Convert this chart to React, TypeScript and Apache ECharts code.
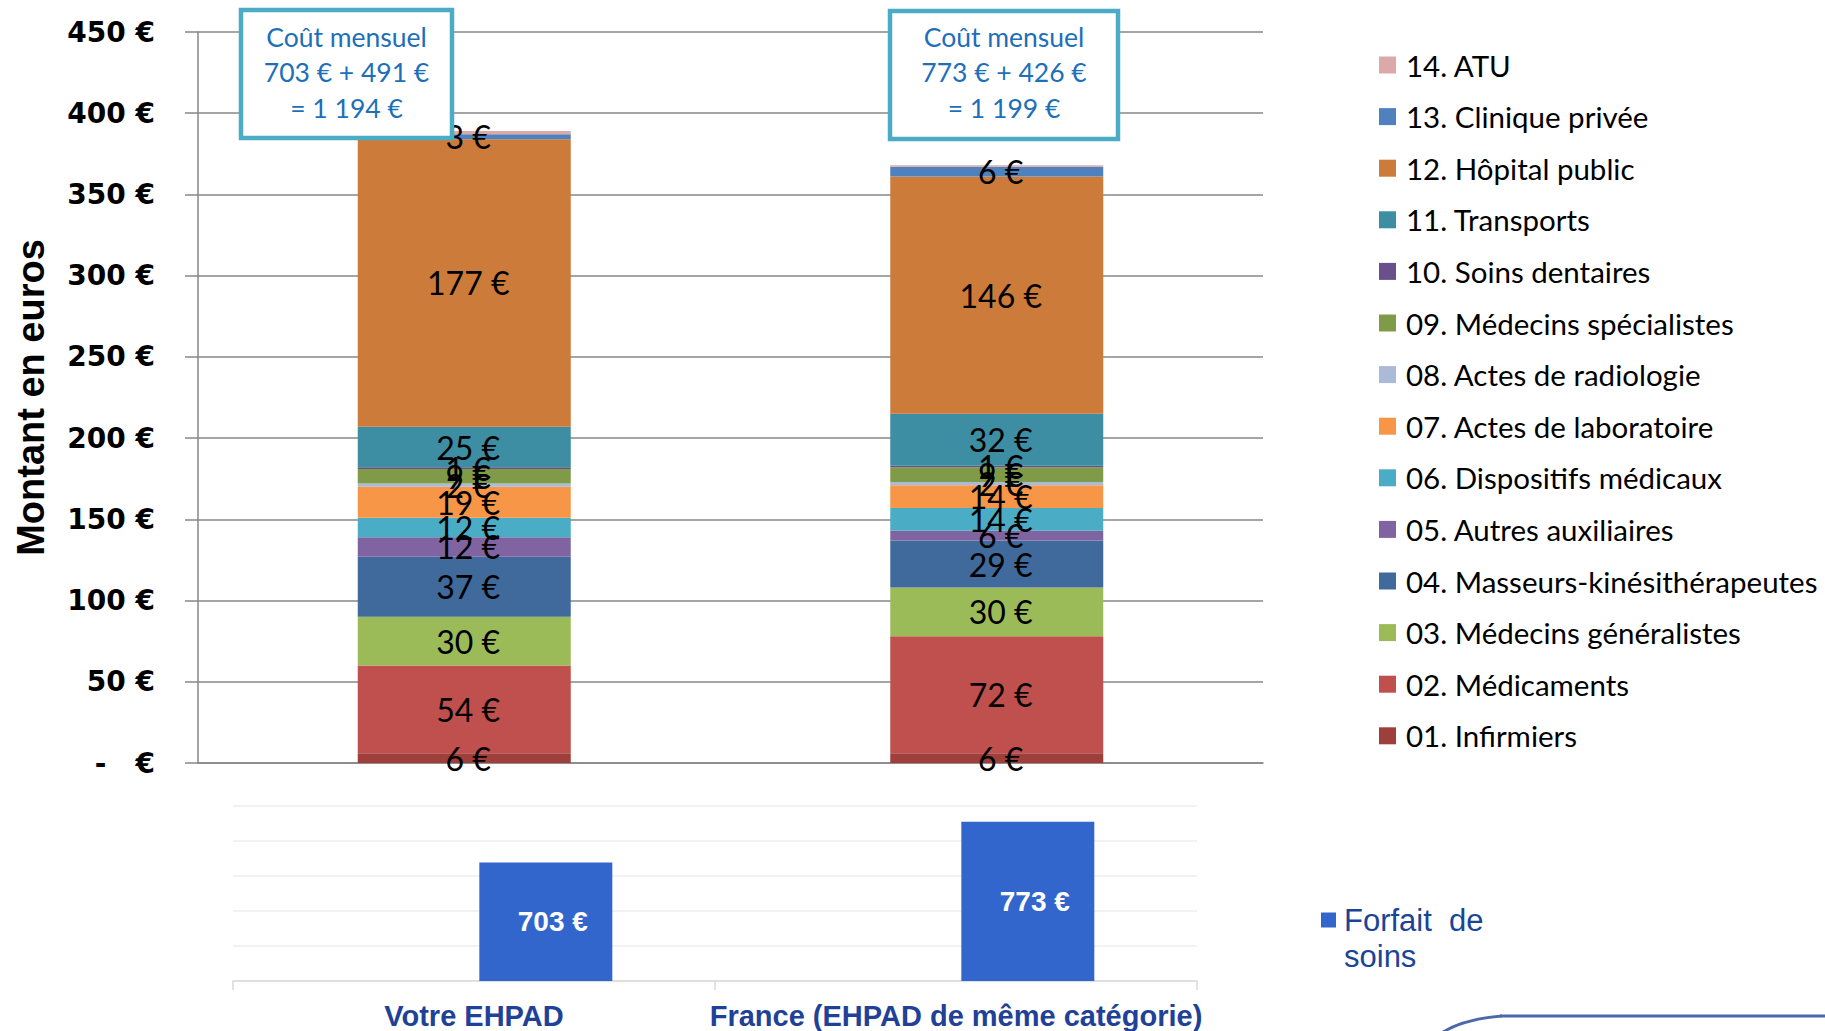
import React, { useEffect, useRef } from 'react';
import * as echarts from 'echarts';

const categories = ['Votre EHPAD', 'France (EHPAD de même catégorie)'];
const postes = [
  '01. Infirmiers',
  '02. Médicaments',
  '03. Médecins généralistes',
  '04. Masseurs-kinésithérapeutes',
  '05. Autres auxiliaires',
  '06. Dispositifs médicaux',
  '07. Actes de laboratoire',
  '08. Actes de radiologie',
  '09. Médecins spécialistes',
  '10. Soins dentaires',
  '11. Transports',
  '12. Hôpital public',
  '13. Clinique privée',
  '14. ATU',
];
const posteColors = [
  '#9E3F3C', '#C0504D', '#9BBB59', '#3F6A9B', '#8064A2', '#4BACC6', '#F79646',
  '#AABAD7', '#7F9B48', '#69508A', '#3D8DA3', '#CC7B3A', '#4F81BD', '#DCA9AA',
];
const votreEhpad = [6, 54, 30, 37, 12, 12, 19, 2, 9, 1, 25, 177, 3, 2];
const franceEhpad = [6, 72, 30, 29, 6, 14, 14, 2, 9, 1, 32, 146, 6, 1];
const forfaitSoins = [703, 773];
const soinsExternes = [491, 426];
const topTicks = { min: 0, max: 450, interval: 50 };
const bottomRange = { min: 500, max: 800 };

const fmtThousands = (v: number) => String(v).replace(/\B(?=(\d{3})+(?!\d))/g, ' ');

export default function App() {
  const ref = useRef<HTMLDivElement>(null);
  useEffect(() => {
    const chart = echarts.init(ref.current!, null, { renderer: 'svg' });
    const narrow = '"Liberation Sans Narrow", "Liberation Sans", Arial, sans-serif';

    const stackSeries = postes.map((name, i) => ({
      name,
      type: 'bar',
      stack: 'total',
      xAxisIndex: 0,
      yAxisIndex: 0,
      barWidth: '40%',
      itemStyle: { color: posteColors[i] },
      label: {
        show: i !== 13,
        position: 'inside',
        offset: [4, 0],
        formatter: '{c} €',
        color: '#000',
        fontFamily: 'Lato',
        fontSize: 32,
        textBorderWidth: 0,
      },
      data: [votreEhpad[i], franceEhpad[i]],
    }));

    const boxes = [
      { x: 241, y: 10, w: 211, h: 128 },
      { x: 890, y: 11, w: 228, h: 128 },
    ];
    const boxGraphics: any[] = [];
    boxes.forEach((b, i) => {
      boxGraphics.push({
        type: 'rect',
        z: 100,
        shape: { x: b.x, y: b.y, width: b.w, height: b.h },
        style: { fill: '#fff', stroke: '#4BACC6', lineWidth: 4.5 },
      });
      boxGraphics.push({
        type: 'text',
        z: 101,
        x: b.x + b.w / 2,
        y: 72,
        style: {
          text: `Coût mensuel\n${forfaitSoins[i]} € + ${soinsExternes[i]} €\n= ${fmtThousands(forfaitSoins[i] + soinsExternes[i])} €`,
          fontFamily: 'Lato',
          fontSize: 26.5,
          lineHeight: 35.5,
          fill: '#1C6FB8',
          align: 'center',
          verticalAlign: 'middle',
        },
      });
    });

    const option: any = {
      animation: false,
      backgroundColor: '#fff',
      grid: [
        { left: 198, top: 32, width: 1065, height: 731, outerBoundsMode: 'none', containLabel: false },
        { left: 233, top: 806, width: 964, height: 175, outerBoundsMode: 'none', containLabel: false },
      ],
      xAxis: [
        {
          gridIndex: 0,
          type: 'category',
          data: categories,
          axisLine: { lineStyle: { color: '#878787', width: 1.5 } },
          axisTick: { show: false },
          axisLabel: { show: false },
        },
        {
          gridIndex: 1,
          type: 'category',
          data: categories,
          axisLine: { lineStyle: { color: '#D9D9D9', width: 1.5 } },
          axisTick: { show: true, length: 9, lineStyle: { color: '#D9D9D9', width: 1.5 } },
          axisLabel: {
            interval: 0,
            color: '#1F4197',
            fontFamily: narrow,
            fontWeight: 'bold',
            fontSize: 29,
            margin: 20,
          },
        },
      ],
      yAxis: [
        {
          gridIndex: 0,
          type: 'value',
          min: topTicks.min,
          max: topTicks.max,
          interval: topTicks.interval,
          name: 'Montant en euros',
          nameLocation: 'middle',
          nameGap: 148,
          nameTextStyle: { fontFamily: '"Liberation Sans", Arial', fontWeight: 'bold', fontSize: 38, color: '#000' },
          axisLine: { show: true, lineStyle: { color: '#878787', width: 1.5 } },
          axisTick: { show: true, length: 13, lineStyle: { color: '#878787', width: 1.5 } },
          axisLabel: {
            margin: 43,
            formatter: (v: number) => (v === 0 ? '-\u00a0\u00a0\u00a0€' : `${v} €`),
            fontFamily: '"DejaVu Sans"',
            fontWeight: 'bold',
            fontSize: 28,
            color: '#000',
          },
          splitLine: { lineStyle: { color: '#878787', width: 1.5 } },
        },
        {
          gridIndex: 1,
          type: 'value',
          min: bottomRange.min,
          max: bottomRange.max,
          axisLabel: { show: false },
          axisLine: { show: false },
          axisTick: { show: false },
          splitLine: { show: false },
        },
        {
          gridIndex: 1,
          type: 'value',
          min: 0,
          max: bottomRange.max - bottomRange.min,
          interval: 60,
          axisLabel: { show: false },
          axisLine: { show: false },
          axisTick: { show: false },
          splitLine: { show: true, lineStyle: { color: '#F2F2F2', width: 2 } },
        },
      ],
      legend: [
        {
          data: postes.slice().reverse(),
          orient: 'vertical',
          left: 1379,
          top: 50,
          padding: 0,
          icon: 'rect',
          itemWidth: 17,
          itemHeight: 17,
          itemGap: 21.6,
          textStyle: { fontFamily: 'Lato', fontSize: 29.5, color: '#000', lineHeight: 30, padding: [0, 0, 0, 5] },
        },
        {
          data: ['Forfait de soins'],
          left: 1321,
          top: 866,
          padding: 0,
          icon: 'rect',
          itemWidth: 15,
          itemHeight: 15,
          formatter: () => '\nForfait\u00a0\u00a0de\nsoins',
          textStyle: {
            fontFamily: '"Liberation Sans", Arial',
            fontSize: 31,
            lineHeight: 36,
            color: '#1A4597',
            padding: [0, 0, 0, 3],
          },
        },
      ],
      series: [
        ...stackSeries,
        {
          name: 'décalage',
          type: 'bar',
          xAxisIndex: 1,
          yAxisIndex: 1,
          barWidth: 133,
          barGap: '8%',
          data: [null, null],
        },
        {
          name: 'Forfait de soins',
          type: 'bar',
          xAxisIndex: 1,
          yAxisIndex: 1,
          barWidth: 133,
          barGap: '8%',
          clip: true,
          itemStyle: { color: '#3366CC' },
          label: {
            show: true,
            position: 'inside',
            offset: [7, 0],
            formatter: '{c} €',
            color: '#fff',
            fontFamily: narrow,
            fontWeight: 'bold',
            fontSize: 28,
            textBorderWidth: 0,
          },
          data: forfaitSoins,
        },
      ],
      graphic: [
        ...boxGraphics,
        {
          type: 'line',
          shape: { x1: 1500, y1: 1016, x2: 1825, y2: 1016 },
          style: { stroke: '#4C69AC', lineWidth: 3 },
        },
        {
          type: 'bezierCurve',
          shape: { x1: 1440, y1: 1034, cpx1: 1462, cpy1: 1019, x2: 1502, y2: 1016 },
          style: { stroke: '#4C69AC', lineWidth: 3, fill: 'none' },
        },
      ],
    };
    chart.setOption(option);
    return () => chart.dispose();
  }, []);
  return (
    <div
      ref={ref}
      style={{ position: 'fixed', left: 0, top: 0, width: 1825, height: 1031, background: '#fff' }}
    />
  );
}
